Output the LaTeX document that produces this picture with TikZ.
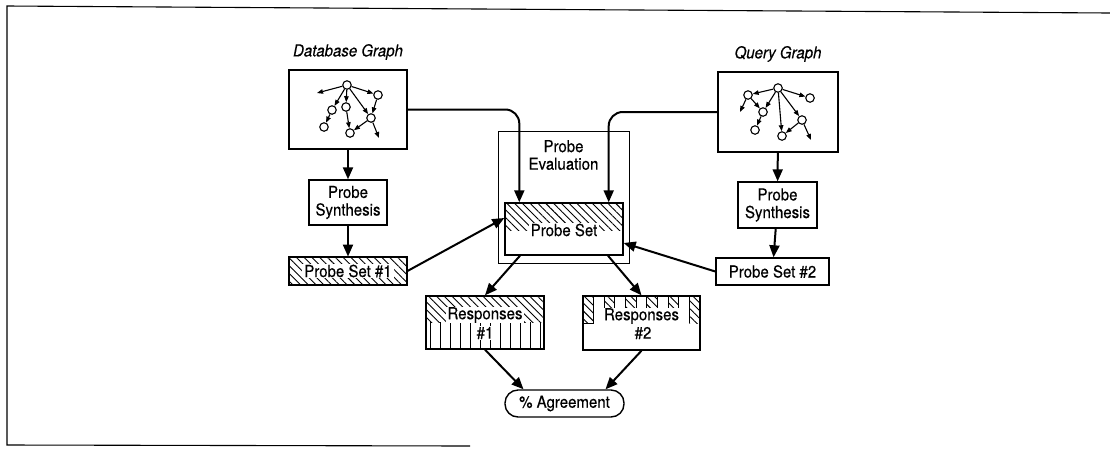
\documentclass[tikz,border=0pt]{standalone}
\usepackage{fontspec}
\setmainfont{TeX Gyre Heros}[FakeBold=0.35, FakeStretch=0.91]
\usetikzlibrary{arrows.meta,patterns.meta,calc}
\begin{document}
\begin{tikzpicture}[x=1pt,y=-1pt,
  every node/.style={font=\fontsize{16.5}{17.6}\selectfont, align=center, inner sep=0pt},
  blk/.style={draw, line width=1.4pt, rectangle},
  flowarrow/.style={line width=2pt, -{Triangle[length=12pt,width=10pt]}},
  mini/.style={circle, draw, line width=1.1pt, minimum size=8.5pt},
  gedge/.style={line width=1.1pt, -{Triangle[length=6pt,width=4.5pt]}},
  hatch/.style={pattern={Lines[angle=-45,distance=5.5pt,line width=0.9pt]}},
  vstripe/.style={pattern={Lines[angle=90,distance=10pt,line width=0.9pt]}},
  whitebg/.style={fill=white, inner xsep=2pt, inner ysep=0.5pt},
  ]
\useasboundingbox (0,0) rectangle (1110,451);

% outer frame (open on the right)
\draw[line width=1.1pt] (1110,13) -- (7,6) -- (7,445) -- (470,446);

% ---- database side ----
\node[font=\fontsize{16.5}{17.6}\selectfont\itshape] (dblabel) at (348,52) {Database Graph};
\node[blk, minimum width=118pt, minimum height=79pt] (dbg) at (348,109.5) {};
\node[blk, minimum width=78pt, minimum height=45pt] (syn1) at (348,202.5) {Probe\\Synthesis};
\node[blk, hatch, minimum width=118pt, minimum height=28pt] (ps1) at (348,271) {};
\node[whitebg] (ps1lbl) at (ps1.center) {Probe Set \#1};

% small database graph
\node[mini] (d0) at (347,85) {};
\node[mini] (d1) at (378,95) {};
\node[mini] (d2) at (332,110) {};
\node[mini] (d3) at (346,107) {};
\node[mini] (d4) at (371,118) {};
\node[mini] (d5) at (324,127) {};
\node[mini] (d6) at (350,133) {};
\coordinate (df1) at (317,93);
\coordinate (df2) at (379,138);
\draw[gedge] (d0) -- (df1);
\draw[gedge] (d0) -- (d1);
\draw[gedge] (d0) -- (d2);
\draw[gedge] (d0) -- (d3);
\draw[gedge] (d0) -- (d4);
\draw[gedge] (d1) -- (d4);
\draw[gedge] (d2) -- (d5);
\draw[gedge] (d3) -- (d6);
\draw[gedge] (d4) -- (d6);
\draw[gedge] (d4) -- (df2);

% ---- query side ----
\node[font=\fontsize{16.5}{17.6}\selectfont\itshape] (qlabel) at (778,54) {Query Graph};
\node[blk, minimum width=120pt, minimum height=80pt] (qg) at (778,112) {};
\node[blk, minimum width=79pt, minimum height=46pt] (syn2) at (777.5,205) {Probe\\Synthesis};
\node[blk, minimum width=113pt, minimum height=27pt] (ps2) at (772.5,271.5) {Probe Set \#2};

% small query graph
\node[mini] (q0) at (778,88) {};
\node[mini] (q1) at (748,95) {};
\node[mini] (q2) at (810,98) {};
\node[mini] (q3) at (763,112) {};
\node[mini] (q4) at (755,130) {};
\node[mini] (q5) at (782,136) {};
\node[mini] (q6) at (802,120) {};
\coordinate (qf1) at (740,112);
\coordinate (qf2) at (811,140);
\draw[gedge] (q0) -- (q1);
\draw[gedge] (q1) -- (qf1);
\draw[gedge] (q0) -- (q2);
\draw[gedge] (q0) -- (q3);
\draw[gedge] (q1) -- (q3);
\draw[gedge] (q3) -- (q4);
\draw[gedge] (q0) -- (q5);
\draw[gedge] (q0) -- (q6);
\draw[gedge] (q6) -- (q5);
\draw[gedge] (q6) -- (qf2);

% ---- probe evaluation ----
\node[draw, line width=1pt, minimum width=131pt, minimum height=132pt] (eval) at (563.5,197) {};
\node (evallbl) at (563.5,155) {Probe\\Evaluation};
\node[blk, minimum width=118pt, minimum height=52pt] (pset) at (564,229) {};
\path[hatch] (pset.north west) rectangle ($(pset.east)+(0,1)$);
\node[whitebg] (psetlbl) at (564,230) {Probe Set};

% ---- responses ----
\node[blk, minimum width=118pt, minimum height=53pt] (r1) at (485,322.5) {};
\path[hatch] (r1.north west) rectangle (544,322);
\path[vstripe] (426,322) rectangle (r1.south east);
\node[whitebg] (r1a) at (485,315) {Responses};
\node[whitebg] (r1b) at (485,333) {\#1};

\node[blk, minimum width=117pt, minimum height=54pt] (r2) at (641.5,323) {};
\foreach \k in {0,2,...,10}
  \path[hatch] (583+\k*10.636,296) rectangle ++(10.636,27);
\foreach \k in {1,...,10}
  \draw[line width=0.9pt] (583+\k*10.636,296) -- ++(0,27);
\draw[line width=0.9pt] (583,323) -- ++(10.636,0);
\node[whitebg] (r2a) at (641.5,316) {Responses};
\node[whitebg] (r2b) at (643,333) {\#2};

% ---- agreement ----
\node[draw, line width=1.4pt, rounded corners=13pt, minimum width=119pt, minimum height=27pt] (agree) at (564.5,403.5) {\% Agreement};

% ---- connectors ----
\draw[flowarrow] (dbg) -- (syn1);
\draw[flowarrow] (syn1) -- (ps1);
\draw[flowarrow] (qg) -- (syn2);
\draw[flowarrow] (syn2) -- (ps2);
\draw[flowarrow, rounded corners=14pt] (dbg.east) -| ($(pset.north west)+(15,0)$);
\draw[flowarrow, rounded corners=14pt] (qg.west) -| ($(pset.north east)+(-15,0)$);
\draw[flowarrow] (ps1.east) -- ([yshift=11pt]pset.west);
\draw[flowarrow] (ps2.west) -- ([yshift=-14pt]pset.east);
\draw[flowarrow] ([xshift=-44pt]pset.south) -- (r1.north);
\draw[flowarrow] ([xshift=44pt]pset.south) -- (r2.north);
\draw[flowarrow] (r1.south) -- ([xshift=-41pt]agree.north);
\draw[flowarrow] (r2.south) -- ([xshift=41pt]agree.north);
\end{tikzpicture}
\end{document}
